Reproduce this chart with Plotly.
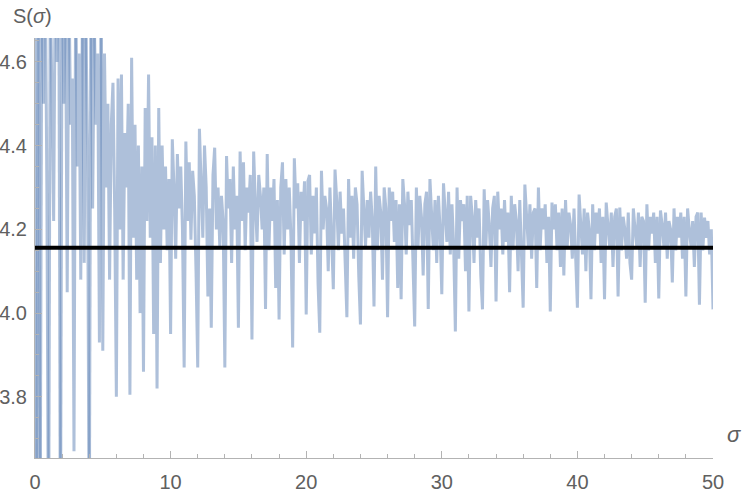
import plotly.graph_objects as go

# S(sigma) sampled every 1/8 in sigma, one row per unit interval [k, k+1)
SIGMA_STEP = 0.125
S_ROWS = [
    [4.90, 3.45, 4.90, 3.40, 4.75, 4.50, 4.85, 4.30],      # 0
    [3.35, 4.80, 4.55, 4.22, 4.85, 4.60, 4.90, 3.35],      # 1
    [4.85, 4.50, 4.75, 4.05, 4.80, 4.45, 4.56, 3.67],      # 2
    [4.80, 4.35, 4.62, 4.08, 4.75, 4.12, 4.70, 4.40],      # 3
    [3.40, 4.82, 4.25, 4.70, 4.45, 4.62, 3.93, 4.72],      # 4
    [3.91, 4.62, 4.30, 4.50, 4.08, 4.45, 4.55, 4.25],      # 5
    [3.80, 4.56, 4.20, 4.57, 4.08, 4.43, 4.30, 4.50],      # 6
    [3.805, 4.61, 4.18, 4.45, 4.08, 4.40, 4.00, 4.35],     # 7
    [3.86, 4.49, 4.22, 4.57, 4.18, 4.42, 3.95, 4.40],      # 8
    [3.82, 4.49, 4.12, 4.40, 4.20, 4.35, 4.15, 4.32],      # 9
    [3.95, 4.415, 4.30, 4.13, 4.38, 4.25, 4.35, 4.20],     # 10
    [3.87, 4.41, 4.22, 4.36, 4.175, 4.34, 4.28, 4.10],     # 11
    [3.87, 4.44, 4.32, 4.18, 4.40, 4.30, 4.04, 4.25],      # 12
    [3.965, 4.33, 4.395, 4.20, 4.30, 4.16, 4.28, 4.22],    # 13
    [3.87, 4.375, 4.25, 4.32, 4.12, 4.35, 4.20, 4.28],     # 14
    [3.965, 4.386, 4.22, 4.36, 4.15, 4.30, 4.24, 4.33],    # 15
    [3.937, 4.386, 4.26, 4.17, 4.33, 4.28, 4.20, 4.30],    # 16
    [4.01, 4.38, 4.15, 4.30, 4.22, 4.32, 4.06, 4.27],      # 17
    [3.985, 4.30, 4.36, 4.14, 4.32, 4.20, 4.30, 4.18],     # 18
    [3.918, 4.37, 4.25, 4.31, 4.12, 4.29, 4.22, 4.315],    # 19
    [3.997, 4.315, 4.33, 4.14, 4.28, 4.19, 4.30, 4.07],    # 20
    [3.953, 4.34, 4.20, 4.28, 4.25, 4.10, 4.30, 4.17],     # 21
    [4.057, 4.343, 4.27, 4.15, 4.29, 4.19, 4.25, 4.12],    # 22
    [3.99, 4.32, 4.18, 4.28, 4.13, 4.30, 4.26, 4.09],      # 23
    [3.973, 4.34, 4.23, 4.16, 4.27, 4.18, 4.29, 4.22],     # 24
    [4.016, 4.35, 4.15, 4.28, 4.24, 4.08, 4.30, 4.25],     # 25
    [3.99, 4.30, 4.22, 4.29, 4.17, 4.27, 4.06, 4.26],      # 26
    [4.033, 4.32, 4.26, 4.14, 4.29, 4.21, 4.27, 4.11],     # 27
    [3.968, 4.30, 4.16, 4.28, 4.23, 4.09, 4.26, 4.29],     # 28
    [4.01, 4.32, 4.22, 4.15, 4.27, 4.12, 4.28, 4.20],      # 29
    [4.045, 4.31, 4.24, 4.17, 4.29, 4.14, 4.26, 4.16],     # 30
    [3.956, 4.30, 4.13, 4.27, 4.22, 4.26, 4.10, 4.28],     # 31
    [4.004, 4.28, 4.23, 4.12, 4.27, 4.18, 4.25, 4.09],     # 32
    [4.009, 4.296, 4.16, 4.27, 4.21, 4.11, 4.25, 4.28],    # 33
    [4.028, 4.29, 4.20, 4.25, 4.14, 4.27, 4.17, 4.24],     # 34
    [4.05, 4.28, 4.15, 4.26, 4.22, 4.10, 4.27, 4.14],      # 35
    [4.013, 4.307, 4.24, 4.16, 4.26, 4.13, 4.24, 4.25],    # 36
    [4.06, 4.30, 4.15, 4.25, 4.20, 4.26, 4.12, 4.23],      # 37
    [4.004, 4.264, 4.20, 4.26, 4.15, 4.24, 4.11, 4.25],    # 38
    [4.09, 4.27, 4.16, 4.24, 4.21, 4.13, 4.25, 4.12],      # 39
    [4.013, 4.283, 4.22, 4.14, 4.25, 4.10, 4.24, 4.20],    # 40
    [4.033, 4.26, 4.15, 4.24, 4.19, 4.25, 4.12, 4.23],     # 41
    [4.033, 4.264, 4.21, 4.16, 4.24, 4.11, 4.23, 4.25],    # 42
    [4.04, 4.252, 4.15, 4.23, 4.20, 4.13, 4.24, 4.12],     # 43
    [4.08, 4.25, 4.20, 4.16, 4.24, 4.11, 4.23, 4.22],      # 44
    [4.025, 4.26, 4.15, 4.23, 4.19, 4.24, 4.12, 4.23],     # 45
    [4.035, 4.245, 4.21, 4.16, 4.24, 4.13, 4.22, 4.20],    # 46
    [4.073, 4.25, 4.15, 4.23, 4.18, 4.24, 4.13, 4.23],     # 47
    [4.04, 4.25, 4.20, 4.16, 4.22, 4.11, 4.23, 4.24],      # 48
    [4.02, 4.24, 4.15, 4.228, 4.18, 4.22, 4.14, 4.20],     # 49
    [4.009],                                               # 50
]
REFERENCE_LEVEL = 4.156
X_RANGE = [0, 50]
Y_RANGE = [3.654, 4.657]
X_TICKS = [0, 10, 20, 30, 40, 50]
Y_TICKS = [3.8, 4.0, 4.2, 4.4, 4.6]

s_vals = [v for row in S_ROWS for v in row]
sigma = [i * SIGMA_STEP for i in range(len(s_vals))]

# split the curve where it leaves the plot range (as clipped plot pieces)
def out(v):
    return v < Y_RANGE[0] or v > Y_RANGE[1]

pieces = []
cur = [0]
for i in range(1, len(s_vals)):
    cur.append(i)
    if out(s_vals[i]):
        pieces.append(cur)
        cur = [i]
if len(cur) > 1:
    pieces.append(cur)

fig = go.Figure()
line_col = "rgba(94,129,181,0.5)"
for p in pieces:
    fig.add_trace(go.Scatter(
        x=[sigma[i] for i in p], y=[s_vals[i] for i in p],
        mode="lines", line=dict(color=line_col, width=3),
        hoverinfo="skip", showlegend=False))

fig.add_trace(go.Scatter(
    x=X_RANGE, y=[REFERENCE_LEVEL, REFERENCE_LEVEL], mode="lines",
    line=dict(color="black", width=4), showlegend=False))

axis_col = "#b3b3b3"
font = dict(family="Liberation Sans, Arial, sans-serif", size=20, color="#606060")

fig.update_layout(
    width=747, height=494,
    margin=dict(l=35, r=34, t=38, b=36, autoexpand=False),
    plot_bgcolor="white", paper_bgcolor="white",
    font=font,
    xaxis=dict(range=X_RANGE, tickvals=X_TICKS, showgrid=False, zeroline=False,
               showline=True, linecolor=axis_col, linewidth=1,
               ticks="inside", ticklen=7, tickcolor=axis_col,
               minor=dict(dtick=2, ticks="inside", ticklen=4, tickcolor=axis_col, showgrid=False),
               tickfont=font, ticklabelstandoff=6),
    yaxis=dict(range=Y_RANGE, tickvals=Y_TICKS, tickformat=".1f", showgrid=False, zeroline=False,
               showline=True, linecolor=axis_col, linewidth=1,
               ticks="inside", ticklen=7, tickcolor=axis_col,
               minor=dict(tick0=3.8, dtick=0.05, ticks="inside", ticklen=4, tickcolor=axis_col, showgrid=False),
               tickfont=font, ticklabelstandoff=3),
    annotations=[
        dict(text="S(<i>σ</i>)", xref="paper", yref="paper", x=0, y=1,
             xshift=-24, yshift=22, xanchor="left", yanchor="middle",
             showarrow=False, font=font),
        dict(text="<i>σ</i>", xref="paper", yref="paper", x=1, y=0,
             xshift=12, yshift=24, xanchor="left", yanchor="middle",
             showarrow=False, font=dict(family=font["family"], size=22, color="#606060")),
    ],
)

fig.write_html("out.html", config={"displayModeBar": False},
               post_script="document.body.style.margin='0';")
